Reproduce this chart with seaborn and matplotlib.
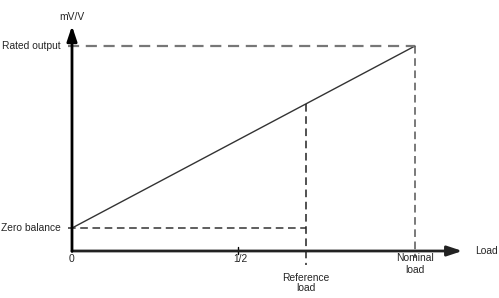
import matplotlib
matplotlib.use("Agg")
import matplotlib.pyplot as plt
import seaborn as sns
import pandas as pd

sns.set_style("white")
plt.rcParams['font.family'] = ['Liberation Sans', 'DejaVu Sans']

# data (x in units of nominal load, y in units of rated output)
load_x = [0.0, 1.0]
output_y = [0.112, 1.0]
zero_balance = 0.112
rated_output = 1.0
half_load = 0.485
reference_load = 0.682
nominal_load = 1.0
tick_labels = ["0", "1/2"]
x_axis_label = "Load"
y_axis_label = "mV/V"

df = pd.DataFrame({"load": load_x, "output": output_y})
ref_y = zero_balance + (rated_output - zero_balance) * reference_load / nominal_load

fig = plt.figure(figsize=(4.99, 2.98), dpi=100)
ax = fig.add_axes([0, 0, 1, 1])
ax.set_xlim(-0.2099, 1.2449)
ax.set_ylim(-0.2293, 1.2244)
ax.axis('off')

# axes arrows
ax.annotate("", xy=(1.138, 0), xytext=(0, 0),
            arrowprops=dict(arrowstyle="-|>,head_length=0.9,head_width=0.3", color="#222222", lw=2, shrinkA=0, shrinkB=0))
ax.annotate("", xy=(0, 1.098), xytext=(0, -0.002),
            arrowprops=dict(arrowstyle="-|>,head_length=0.9,head_width=0.3", color="black", lw=2, shrinkA=0, shrinkB=0))

# main line
sns.lineplot(data=df, x="load", y="output", ax=ax, color="#333333", lw=1)

# dashed guides
ax.plot([-0.012, nominal_load], [rated_output, rated_output], ls=(0, (5, 3)), color="#777777", lw=1.6)
ax.plot([nominal_load, nominal_load], [rated_output, -0.035], ls=(0, (5, 3)), color="#555555", lw=1.1)
ax.plot([-0.012, reference_load], [zero_balance, zero_balance], ls=(0, (5, 3)), color="#333333", lw=1.1)
ax.plot([reference_load, reference_load], [ref_y, -0.07], ls=(0, (5, 3)), color="#222222", lw=1.1)
# half tick
ax.plot([half_load, half_load], [0.02, -0.015], color="black", lw=1)

fs = 7.4
ax.text(-0.033, rated_output, "Rated output", ha="right", va="center", fontsize=fs)
ax.text(-0.033, zero_balance, "Zero balance", ha="right", va="center", fontsize=fs)
ax.text(0.0, 1.14, y_axis_label, ha="center", va="center", fontsize=fs)
ax.text(0.0, -0.016, tick_labels[0], ha="center", va="top", fontsize=fs)
ax.text(half_load + 0.006, -0.016, tick_labels[1], ha="center", va="top", fontsize=fs)
ax.text(reference_load, -0.105, "Reference\nload", ha="center", va="top", fontsize=fs, linespacing=1.1)
ax.text(nominal_load, -0.012, "Nominal\nload", ha="center", va="top", fontsize=fs, linespacing=1.15)
ax.text(1.175, 0.0, x_axis_label, ha="left", va="center", fontsize=fs)

fig.savefig("out.png", dpi=100)
